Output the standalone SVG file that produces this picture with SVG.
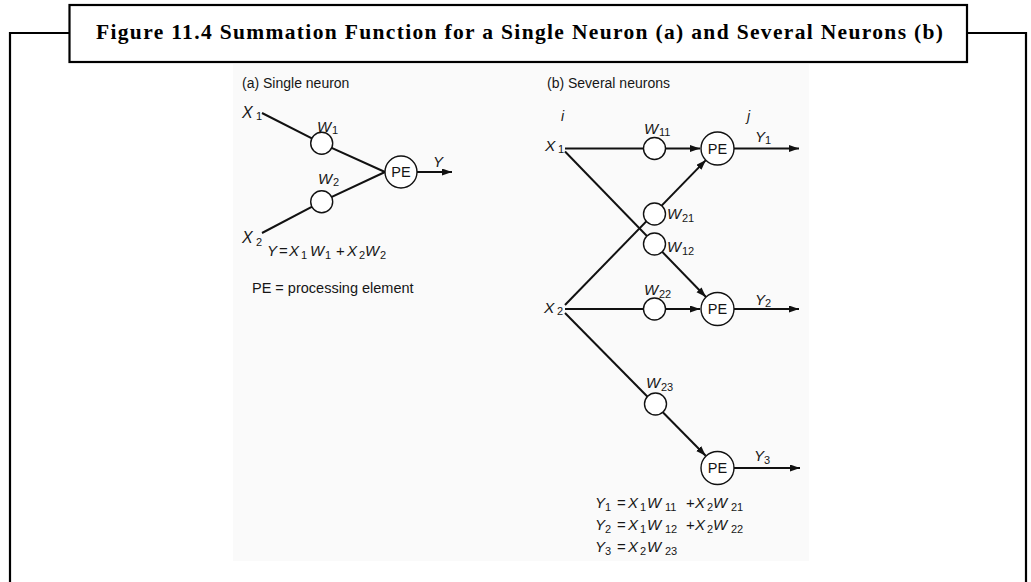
<svg xmlns="http://www.w3.org/2000/svg" width="1031" height="582" viewBox="0 0 1031 582">
<style>
.frame{fill:none;stroke:#000;stroke-width:2.2}
.ln{fill:none;stroke:#111;stroke-width:2}
.w{fill:#fff;stroke:#111;stroke-width:1.4}
.t{font-family:"Liberation Sans",Arial,Helvetica,sans-serif;fill:#161616}
.it{font-style:italic}
.s{font-size:11px}
.v{font-size:15px}
.title{font-family:"Liberation Serif","Times New Roman",serif;font-weight:bold;font-size:21.5px;fill:#000}
</style>
<defs>
<marker id="arr" markerUnits="userSpaceOnUse" markerWidth="11" markerHeight="8" refX="10" refY="3.5" orient="auto">
<path d="M0,0 L10,3.5 L0,7 z" fill="#111"/>
</marker>
</defs>
<rect width="1031" height="582" fill="#fff"/>
<g id="frame">
<path class="frame" d="M10,582 V33 H69.5 M967,33 H1026 V582"/>
<rect class="frame" x="69.5" y="5" width="897.5" height="57" fill="#fff"/>
<text class="title" x="96" y="39" textLength="847" lengthAdjust="spacing">Figure 11.4 Summation Function for a Single Neuron (a) and Several Neurons (b)</text>
</g>
<rect x="233" y="64" width="576" height="497" fill="#fafafa"/>
<g id="connectors">
<polyline class="ln" points="262,113 321.7,143.3 385,172"/>
<polyline class="ln" points="262,233 321.7,201.7 385,172"/>
<line class="ln" x1="417" y1="172" x2="452" y2="172" marker-end="url(#arr)"/>
<line class="ln" x1="565" y1="148.5" x2="700" y2="148.5" marker-end="url(#arr)"/>
<line class="ln" x1="565" y1="151.5" x2="706" y2="297" marker-end="url(#arr)"/>
<line class="ln" x1="565" y1="305" x2="705.9" y2="160.1" marker-end="url(#arr)"/>
<line class="ln" x1="565" y1="309" x2="700" y2="309" marker-end="url(#arr)"/>
<line class="ln" x1="565" y1="313" x2="705.7" y2="455.7" marker-end="url(#arr)"/>
<line class="ln" x1="734" y1="148.5" x2="799" y2="148.5" marker-end="url(#arr)"/>
<line class="ln" x1="734" y1="309" x2="799" y2="309" marker-end="url(#arr)"/>
<line class="ln" x1="734" y1="468" x2="800" y2="468" marker-end="url(#arr)"/>
</g>
<g id="a-label"><text class="t" x="242" y="88" font-size="14">(a) Single neuron</text></g>
<g id="a-x1"><text class="t it" x="242" y="117.5" font-size="16">X</text><text class="t s" x="256" y="120">1</text></g>
<g id="a-x2"><text class="t it" x="242" y="243" font-size="16">X</text><text class="t s" x="256" y="246">2</text></g>
<g id="a-w1"><circle class="w" cx="321.7" cy="143.3" r="11"/><text class="t it v" x="317" y="131.5">W</text><text class="t s" x="332" y="134">1</text></g>
<g id="a-w2"><circle class="w" cx="321.7" cy="201.7" r="11"/><text class="t it v" x="318" y="183.5">W</text><text class="t s" x="333" y="186">2</text></g>
<g id="a-pe"><circle class="w" cx="401" cy="172" r="16"/><text class="t" x="401" y="177" font-size="14.5" text-anchor="middle">PE</text></g>
<g id="a-y"><text class="t it v" x="433" y="167">Y</text></g>
<g id="a-eq">
<text class="t it v" x="267" y="256">Y</text>
<text class="t v" x="279" y="256">=</text>
<text class="t it v" x="289" y="256">X</text><text class="t s" x="301" y="258.5">1</text>
<text class="t it v" x="310" y="256">W</text><text class="t s" x="325" y="258.5">1</text>
<text class="t v" x="336" y="256">+</text>
<text class="t it v" x="347" y="256">X</text><text class="t s" x="359" y="258.5">2</text>
<text class="t it v" x="365" y="256">W</text><text class="t s" x="380" y="258.5">2</text>
</g>
<g id="a-pe-def"><text class="t" x="252" y="293" font-size="14.5">PE = processing element</text></g>

<g id="b-label"><text class="t" x="547" y="88" font-size="14">(b) Several neurons</text></g>
<g id="b-i"><text class="t it" x="561" y="121" font-size="14">i</text></g>
<g id="b-j"><text class="t it" x="747" y="121" font-size="14">j</text></g>
<g id="b-x1"><text class="t it" x="545" y="150.5" font-size="15.5">X</text><text class="t s" x="558" y="153">1</text></g>
<g id="b-x2"><text class="t it" x="544" y="312.5" font-size="15.5">X</text><text class="t s" x="557" y="315">2</text></g>
<g id="b-w11"><circle class="w" cx="654.5" cy="148.5" r="11"/><text class="t it v" x="644" y="133.5">W</text><text class="t s" x="659" y="136">11</text></g>
<g id="b-w21"><circle class="w" cx="654.5" cy="214" r="11"/><text class="t it v" x="667" y="218.5">W</text><text class="t s" x="682" y="221.5">21</text></g>
<g id="b-w12"><circle class="w" cx="654.5" cy="244" r="11"/><text class="t it v" x="667" y="251.5">W</text><text class="t s" x="682" y="254.5">12</text></g>
<g id="b-w22"><circle class="w" cx="654.5" cy="309" r="11"/><text class="t it v" x="644" y="295">W</text><text class="t s" x="659" y="297.5">22</text></g>
<g id="b-w23"><circle class="w" cx="655.5" cy="404" r="11"/><text class="t it v" x="646" y="388">W</text><text class="t s" x="661" y="390.5">23</text></g>
<g id="b-pe1"><circle class="w" cx="717.5" cy="148.5" r="16.5"/><text class="t" x="717.5" y="153.5" font-size="14.5" text-anchor="middle">PE</text></g>
<g id="b-pe2"><circle class="w" cx="717.5" cy="309" r="16.5"/><text class="t" x="717.5" y="314" font-size="14.5" text-anchor="middle">PE</text></g>
<g id="b-pe3"><circle class="w" cx="717.5" cy="468" r="16.5"/><text class="t" x="717.5" y="473" font-size="14.5" text-anchor="middle">PE</text></g>
<g id="b-y1"><text class="t it v" x="755" y="141.5">Y</text><text class="t s" x="765" y="144">1</text></g>
<g id="b-y2"><text class="t it v" x="755" y="304.5">Y</text><text class="t s" x="765" y="307">2</text></g>
<g id="b-y3"><text class="t it v" x="754" y="461">Y</text><text class="t s" x="764" y="463.5">3</text></g>
<g id="b-eq">
<text class="t it v" x="595" y="508">Y</text><text class="t s" x="605" y="510.5">1</text>
<text class="t v" x="617" y="508">=</text>
<text class="t it v" x="628" y="508">X</text><text class="t s" x="640" y="510.5">1</text>
<text class="t it v" x="647" y="508">W</text><text class="t s" x="665" y="510.5">11</text>
<text class="t v" x="686" y="508">+</text>
<text class="t it v" x="695" y="508">X</text><text class="t s" x="707" y="510.5">2</text>
<text class="t it v" x="713" y="508">W</text><text class="t s" x="731" y="510.5">21</text>

<text class="t it v" x="595" y="530">Y</text><text class="t s" x="605" y="532.5">2</text>
<text class="t v" x="617" y="530">=</text>
<text class="t it v" x="628" y="530">X</text><text class="t s" x="640" y="532.5">1</text>
<text class="t it v" x="647" y="530">W</text><text class="t s" x="665" y="532.5">12</text>
<text class="t v" x="686" y="530">+</text>
<text class="t it v" x="695" y="530">X</text><text class="t s" x="707" y="532.5">2</text>
<text class="t it v" x="713" y="530">W</text><text class="t s" x="731" y="532.5">22</text>

<text class="t it v" x="595" y="552">Y</text><text class="t s" x="605" y="554.5">3</text>
<text class="t v" x="617" y="552">=</text>
<text class="t it v" x="628" y="552">X</text><text class="t s" x="640" y="554.5">2</text>
<text class="t it v" x="647" y="552">W</text><text class="t s" x="665" y="554.5">23</text>
</g>
</svg>
